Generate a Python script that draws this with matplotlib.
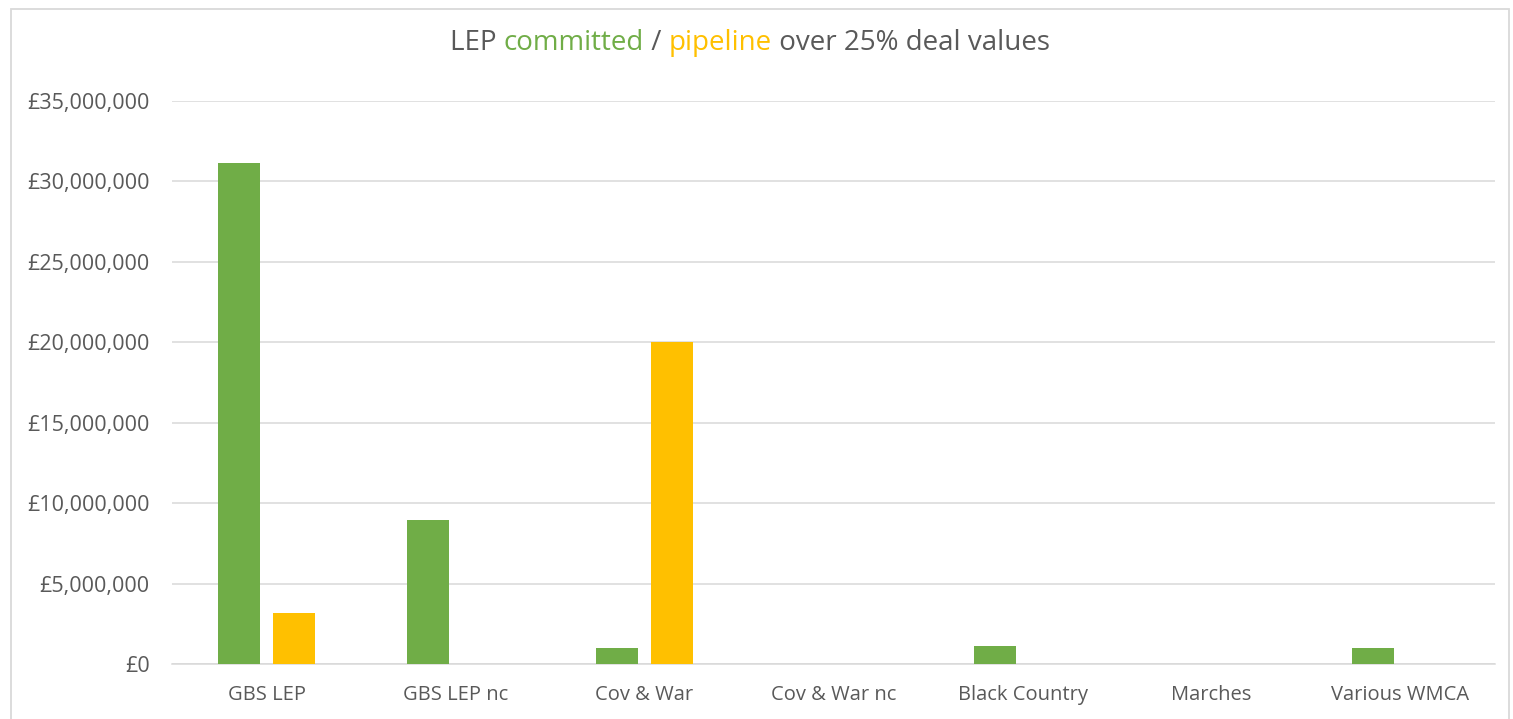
import matplotlib
matplotlib.use("Agg")
import matplotlib.pyplot as plt
import numpy as np
from matplotlib.ticker import FuncFormatter
from matplotlib.patches import Rectangle

categories = ["GBS LEP", "GBS LEP nc", "Cov & War", "Cov & War nc", "Black Country", "Marches", "Various WMCA"]
committed = [31150000, 8950000, 1000000, 0, 1120000, 0, 1000000]
pipeline = [3180000, 0, 20000000, 0, 0, 0, 0]

GREEN = "#70AD47"
YELLOW = "#FFC000"
GRAY = "#595959"

plt.rcParams['font.family'] = ['Open Sans', 'DejaVu Sans']

fig = plt.figure(figsize=(15.13, 7.19), dpi=100)
ax = fig.add_axes([172/1513, 1-664/719, (1495-172)/1513, (664-101)/719])

x = np.arange(len(categories))
w = 0.222
off = 0.143
ax.bar(x - off, committed, width=w, color=GREEN, zorder=3)
ax.bar(x + off, pipeline, width=w, color=YELLOW, zorder=3)

ax.set_xlim(-0.5, len(categories) - 0.5)
ax.set_ylim(0, 35000000)
ax.set_yticks(np.arange(0, 35000001, 5000000))
ax.yaxis.set_major_formatter(FuncFormatter(lambda v, p: "£{:,.0f}".format(v)))
ax.set_xticks(x)
ax.set_xticklabels(categories)
ax.grid(axis='y', color="#D9D9D9", linewidth=1.1, zorder=0)
for s in ["top", "right", "left"]:
    ax.spines[s].set_visible(False)
ax.spines["bottom"].set_color("#D9D9D9")
ax.spines["bottom"].set_linewidth(1.1)
ax.tick_params(axis='y', length=0, labelcolor=GRAY, labelsize=15.5, pad=16)
ax.tick_params(axis='x', length=0, labelcolor=GRAY, labelsize=14.5, pad=15)

# Outer chart border
fig.patches.append(Rectangle((11/1513, -0.01), (1509-11)/1513, 1.01 - 9/719,
                             transform=fig.transFigure, fill=False,
                             edgecolor="#D9D9D9", linewidth=1.3))

# Multi-coloured title
parts = [("LEP ", GRAY), ("committed", GREEN), (" / ", GRAY), ("pipeline", YELLOW), (" over 25% deal values", GRAY)]
fig.canvas.draw()
renderer = fig.canvas.get_renderer()
texts = []
for s, c in parts:
    t = fig.text(0, 1-43/719, s, color=c, fontsize=20, va='center', ha='left')
    texts.append(t)
widths = [t.get_window_extent(renderer).width for t in texts]
total = sum(widths)
xpos = 750 - total/2
for t, wd in zip(texts, widths):
    t.set_x(xpos/1513)
    xpos += wd

fig.savefig("out.png", dpi=100)
